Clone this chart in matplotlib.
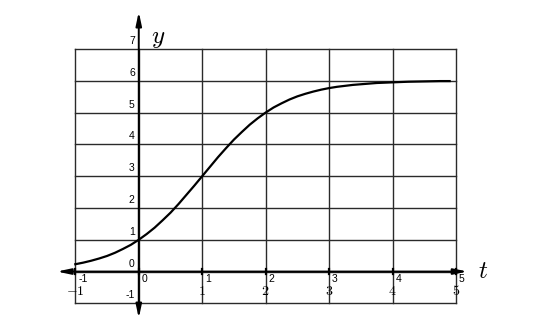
import matplotlib
matplotlib.use('agg')
import matplotlib.pyplot as plt
from matplotlib.patches import FancyArrowPatch

plt.rcParams['mathtext.fontset'] = 'cm'

# curve values
t_vals = [-1, -0.875, -0.75, -0.625, -0.5, -0.375, -0.25, -0.125, 0,
          0.125, 0.25, 0.375, 0.5, 0.625, 0.75, 0.875, 1,
          1.125, 1.25, 1.375, 1.5, 1.625, 1.75, 1.875, 2,
          2.125, 2.25, 2.375, 2.5, 2.625, 2.75, 2.875, 3,
          3.125, 3.25, 3.375, 3.5, 3.625, 3.75, 3.875, 4,
          4.25, 4.5, 4.75, 4.9]
y_vals = [0.23, 0.28, 0.34, 0.41, 0.49, 0.59, 0.71, 0.84, 1.0,
          1.18, 1.38, 1.61, 1.85, 2.12, 2.41, 2.70, 3.0,
          3.30, 3.60, 3.88, 4.15, 4.39, 4.62, 4.82, 5.0,
          5.16, 5.29, 5.41, 5.51, 5.59, 5.66, 5.72, 5.77,
          5.81, 5.84, 5.87, 5.89, 5.91, 5.93, 5.94, 5.95,
          5.97, 5.98, 5.99, 5.99]

x_ticks = [-1, 0, 1, 2, 3, 4, 5]
y_ticks = [-1, 0, 1, 2, 3, 4, 5, 6, 7]
big_x_labels = ['$-1$', '', '$1$', '$2$', '$3$', '$4$', '$5$']

fig = plt.figure(figsize=(5.38, 3.31), dpi=100)
ax = fig.add_axes([0, 0, 1, 1])
ax.set_xlim(-2.187, 6.292)
ax.set_ylim(-1.87, 8.54)
ax.axis('off')

# grid
for t in x_ticks:
    ax.plot([t, t], [-1, 7], color='#2a2a2a', lw=1.0, zorder=1)
for y in y_ticks:
    ax.plot([-1, 5], [y, y], color='#2a2a2a', lw=1.0, zorder=1)

# axes with arrows
style = '<|-|>,head_length=0.8,head_width=0.17'
ax.add_patch(FancyArrowPatch((-1.29, 0), (5.18, 0), arrowstyle=style,
                             mutation_scale=10, color='black', lw=1.4, zorder=3, shrinkA=0, shrinkB=0))
ax.add_patch(FancyArrowPatch((0, -1.47), (0, 8.17), arrowstyle=style,
                             mutation_scale=10, color='black', lw=1.4, zorder=3, shrinkA=0, shrinkB=0))

# tick marks on the t axis
for t in x_ticks:
    ax.plot([t, t], [-0.09, 0.09], color='black', lw=1.6, zorder=3)

# curve
ax.plot(t_vals, y_vals, color='black', lw=1.6, zorder=4)

# tick labels
for t, big in zip(x_ticks, big_x_labels):
    ax.annotate(str(t), (t, 0), xytext=(3, -2), textcoords='offset pixels',
                ha='left', va='top', fontsize=7.5, family='Liberation Sans')
    if big:
        ax.annotate(big, (t, -1), xytext=(0, 12), textcoords='offset pixels',
                    ha='center', va='center', fontsize=10)
for y in y_ticks:
    ax.annotate(str(y), (0, y), xytext=(-4, 3), textcoords='offset pixels',
                ha='right', va='bottom', fontsize=7.5, family='Liberation Sans')

ax.text(5.34, 0.03, '$t$', fontsize=18, ha='left', va='center')
ax.text(0.19, 7.35, '$y$', fontsize=18, ha='left', va='center')

fig.savefig('out.png', dpi=100)
